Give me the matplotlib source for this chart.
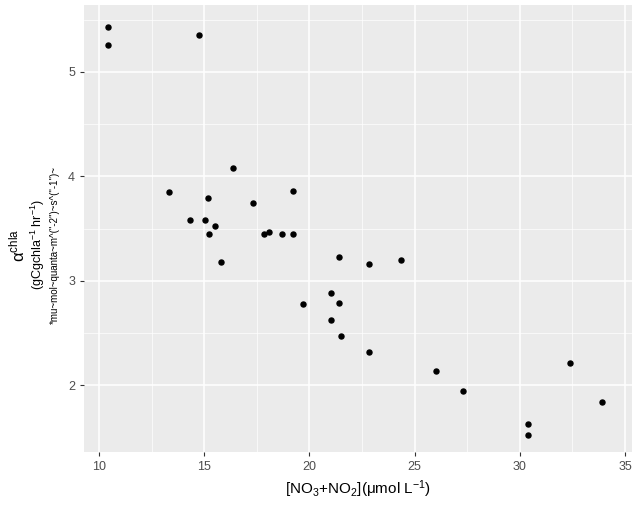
import matplotlib
matplotlib.use("Agg")
import matplotlib.pyplot as plt

x = [10.43,10.43,14.75,13.33,14.33,15.04,15.18,15.23,15.51,15.8,16.37,17.32,17.84,18.08,18.70,19.22,19.22,19.70,21.03,21.03,21.41,21.41,21.50,22.83,22.83,24.35,26.02,27.30,30.39,30.39,32.39,33.91]
y = [5.43,5.26,5.35,3.85,3.58,3.58,3.79,3.45,3.52,3.18,4.08,3.74,3.45,3.47,3.45,3.45,3.86,2.78,2.88,2.62,3.23,2.79,2.47,3.16,2.32,3.20,2.14,1.94,1.63,1.52,2.21,1.84]
xticks = [10,15,20,25,30,35]
yticks = [2,3,4,5]

plt.rcParams['font.family'] = ['Liberation Sans','DejaVu Sans']
plt.rcParams['mathtext.fontset'] = 'custom'
plt.rcParams['mathtext.rm'] = 'Liberation Sans'
plt.rcParams['mathtext.it'] = 'Liberation Sans'
fig = plt.figure(figsize=(6.34,5.30), dpi=100)
ax = fig.add_axes([84/634, 1-452/530, 548/634, 447/530])
ax.set_facecolor('#EBEBEB')
ax.set_xlim(9.29,35.33); ax.set_ylim(1.36,5.64)
ax.set_xticks(xticks); ax.set_yticks(yticks)
ax.set_xticks([12.5,17.5,22.5,27.5,32.5], minor=True)
ax.set_yticks([2.5,3.5,4.5,5.5], minor=True)
ax.grid(True, which='major', color='white', lw=1.1)
ax.grid(True, which='minor', color='white', lw=0.5)
ax.set_axisbelow(True)
for s in ax.spines.values(): s.set_visible(False)
ax.tick_params(which='major', length=3, color='#333333', labelcolor='#4D4D4D', labelsize=9)
ax.tick_params(which='minor', length=0)
ax.scatter(x, y, s=13, color='black', zorder=3)
ax.set_xlabel('[NO$_3$+NO$_2$](μmol L$^{-1}$)', fontsize=11)
fig.text(17/634, 1-245/530, 'α$^{chla}$', rotation=90, ha='center', va='center', fontsize=12)
fig.text(38/634, 1-245/530, '(gCgchla$^{-1}$ hr$^{-1}$)', rotation=90, ha='center', va='center', fontsize=9)
fig.text(55/634, 1-245/530, '*mu~mol~quanta~m^("-2")~s^("-1")~', rotation=90, ha='center', va='center', fontsize=7)
fig.savefig('out.png', dpi=100)
